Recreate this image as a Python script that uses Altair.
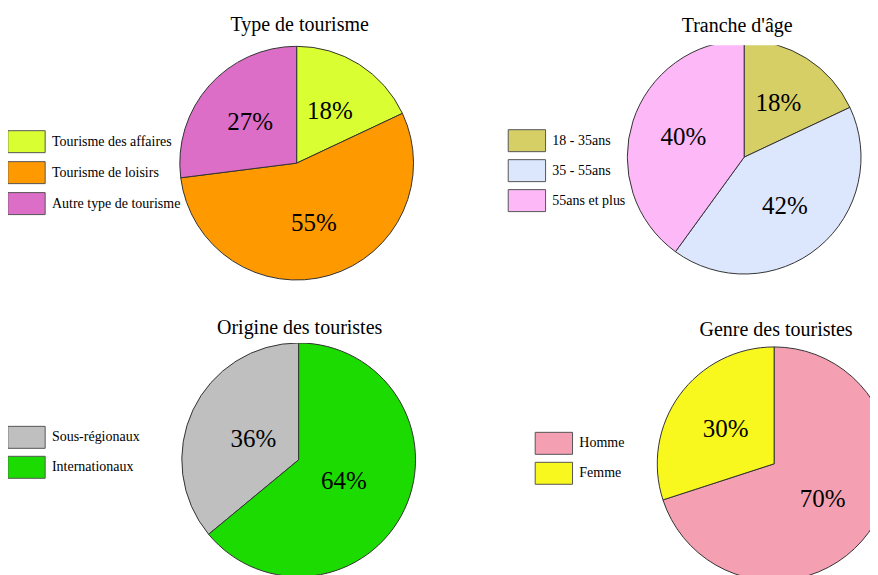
import altair as alt
import pandas as pd

FONT = "Liberation Serif"

# ---- data ----
type_cats = ["Tourisme des affaires", "Tourisme de loisirs", "Autre type de tourisme"]
type_vals = [18, 55, 27]
type_colors = ["#d9ff33", "#ff9900", "#dd6ec8"]
type_slice_order = [0, 1, 2]

age_cats = ["18 - 35ans", "35 - 55ans", "55ans et plus"]
age_vals = [18, 42, 40]
age_colors = ["#d5cf66", "#dce6fc", "#fdb8f8"]
age_slice_order = [0, 1, 2]

orig_cats = ["Sous-régionaux", "Internationaux"]
orig_vals = [36, 64]
orig_colors = ["#bfbfbf", "#1cdb00"]
orig_slice_order = [1, 0]

genre_cats = ["Homme", "Femme"]
genre_vals = [70, 30]
genre_colors = ["#f5a0b2", "#f8f81f"]
genre_slice_order = [0, 1]

R = 117  # pie radius (px)


def panel(title, cats, vals, colors, order, label_r, lx, ly, t_off, t_dx,
          row_pad, w, h, cx, cy):
    df = pd.DataFrame({
        "cat": cats,
        "value": vals,
        "ord": order,
        "label": [f"{v}%" for v in vals],
    })
    theta = alt.Theta("value:Q", stack=True)
    arc = alt.Chart(df).mark_arc(
        outerRadius=R, stroke="#333333", strokeWidth=1, clip=True
    ).encode(
        theta=theta,
        order=alt.Order("ord:Q"),
        x=alt.value(cx),
        y=alt.value(cy),
        color=alt.Color(
            "cat:N",
            sort=cats,
            scale=alt.Scale(domain=cats, range=colors),
            legend=alt.Legend(
                title=None,
                orient="none",
                legendX=lx,
                legendY=ly,
                padding=0,
                symbolType="M-1.7,-1H1.7V1H-1.7Z",
                symbolSize=484,
                symbolStrokeColor="#555555",
                symbolStrokeWidth=1,
                symbolOpacity=1,
                labelFont=FONT,
                labelFontSize=14,
                labelColor="black",
                labelOffset=14,
                rowPadding=row_pad,
            ),
        ),
    )
    txt = alt.Chart(df).mark_text(
        radius=label_r, font=FONT, fontSize=25, color="black", clip=True
    ).encode(
        theta=theta,
        order=alt.Order("ord:Q"),
        x=alt.value(cx),
        y=alt.value(cy),
        detail="cat:N",
        text="label:N",
    )
    return (arc + txt).properties(
        width=w,
        height=h,
        title=alt.TitleParams(
            title, font=FONT, fontSize=20, fontWeight="normal", color="black",
            baseline="alphabetic", offset=t_off, dx=t_dx,
        ),
    )


A = panel("Type de tourisme", type_cats, type_vals, type_colors, type_slice_order,
          62, -164, 85, -6, 3, 4, 236, 236, 118, 118)
B = panel("Tranche d'âge", age_cats, age_vals, age_colors, age_slice_order,
          64, -111, 84, -7, -7, 3, 236, 230, 118, 112)
C = panel("Origine des touristes", orig_cats, orig_vals, orig_colors, orig_slice_order,
          50, -164, 83, -11, 1, 3, 240, 234, 120, 117)
D = panel("Genre des touristes", genre_cats, genre_vals, genre_colors, genre_slice_order,
          60, -114, 89, -13, 13, 3, 214, 238, 118, 121)

row1 = alt.hconcat(A, B, spacing=101).resolve_scale(color="independent", theta="independent")
row2 = alt.hconcat(C, D, spacing=124).resolve_scale(color="independent", theta="independent")

chart = alt.vconcat(row1, row2, spacing=37).resolve_scale(
    color="independent", theta="independent"
).properties(
    padding={"left": 7, "top": 7, "right": 0, "bottom": 0},
    background="white",
).configure_view(stroke=None)

chart.save("out.html", embed_options={"renderer": "svg", "actions": False})
